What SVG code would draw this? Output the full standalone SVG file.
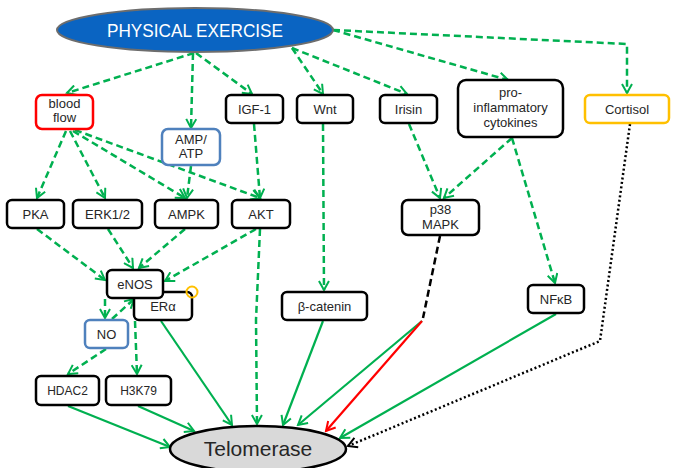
<svg xmlns="http://www.w3.org/2000/svg" width="673" height="468" viewBox="0 0 673 468">
<style>
.box{fill:#fff;stroke:#000;stroke-width:2.5}
.red{stroke:#ff0000}
.blue{stroke:#4f81bd}
.org{stroke:#ffc000}
.t{font-family:"Liberation Sans",Arial,sans-serif;font-size:13px;fill:#262626;text-anchor:middle}
.sm{font-size:12px}
.gd{fill:none;stroke:#00b050;stroke-width:2.5;stroke-dasharray:7 4}
.gs{fill:none;stroke:#00b050;stroke-width:2.2}
.rs{fill:none;stroke:#ff0000;stroke-width:2.2}
.kd{fill:none;stroke:#000;stroke-width:2.5;stroke-dasharray:7 4}
.kdot{fill:none;stroke:#000;stroke-width:2.5;stroke-dasharray:2 2.5}
</style>
<defs>
<marker id="ag" markerWidth="12" markerHeight="12" refX="10" refY="6" orient="auto" markerUnits="userSpaceOnUse"><path d="M1,1 L10,6 L1,11" fill="none" stroke="#00b050" stroke-width="2"/></marker>
<marker id="ar" markerWidth="12" markerHeight="12" refX="10" refY="6" orient="auto" markerUnits="userSpaceOnUse"><path d="M1,1 L10,6 L1,11" fill="none" stroke="#ff0000" stroke-width="2"/></marker>
<marker id="ak" markerWidth="12" markerHeight="12" refX="10" refY="6" orient="auto" markerUnits="userSpaceOnUse"><path d="M1,1 L10,6 L1,11" fill="none" stroke="#000" stroke-width="2"/></marker>
</defs>
<g id="connectors">
<line class="gd" x1="194" y1="53" x2="67" y2="93" marker-end="url(#ag)"/>
<line class="gd" x1="193" y1="53" x2="191" y2="128" marker-end="url(#ag)"/>
<line class="gd" x1="196" y1="53" x2="252" y2="94" marker-end="url(#ag)"/>
<line class="gd" x1="292" y1="48" x2="323" y2="94" marker-end="url(#ag)"/>
<line class="gd" x1="292" y1="48" x2="407" y2="94" marker-end="url(#ag)"/>
<line class="gd" x1="333" y1="30" x2="508" y2="80" marker-end="url(#ag)"/>
<polyline class="gd" points="333,30 627,44 627,93" marker-end="url(#ag)"/>
<line class="gd" x1="66" y1="131" x2="37" y2="198" marker-end="url(#ag)"/>
<line class="gd" x1="70" y1="131" x2="105" y2="198" marker-end="url(#ag)"/>
<line class="gd" x1="73" y1="131" x2="185" y2="198" marker-end="url(#ag)"/>
<line class="gd" x1="75" y1="130" x2="260" y2="198" marker-end="url(#ag)"/>
<line class="gd" x1="191" y1="166" x2="187" y2="198" marker-end="url(#ag)"/>
<line class="gd" x1="254" y1="124" x2="260" y2="198" marker-end="url(#ag)"/>
<line class="gd" x1="323" y1="124" x2="324" y2="290" marker-end="url(#ag)"/>
<line class="gd" x1="409" y1="124" x2="440" y2="198" marker-end="url(#ag)"/>
<line class="gd" x1="512" y1="138" x2="444" y2="198" marker-end="url(#ag)"/>
<line class="gd" x1="512" y1="138" x2="555" y2="283" marker-end="url(#ag)"/>
<line class="gd" x1="37" y1="229" x2="105" y2="280" marker-end="url(#ag)"/>
<line class="gd" x1="108" y1="229" x2="133" y2="268" marker-end="url(#ag)"/>
<line class="gd" x1="185" y1="229" x2="139" y2="268" marker-end="url(#ag)"/>
<line class="gd" x1="256" y1="229" x2="165" y2="281" marker-end="url(#ag)"/>
<path class="gd" d="M260,229 L256,320 L257,424" marker-end="url(#ag)"/>
<line class="gd" x1="105" y1="299" x2="105" y2="318" marker-end="url(#ag)"/>
<line class="gd" x1="112" y1="319" x2="134" y2="299" marker-end="url(#ag)"/>
<line class="gd" x1="135" y1="321" x2="137" y2="374" marker-end="url(#ag)"/>
<line class="gd" x1="106" y1="349" x2="68" y2="374" marker-end="url(#ag)"/>
<line class="gs" x1="68" y1="406" x2="170" y2="447" marker-end="url(#ag)"/>
<line class="gs" x1="138" y1="406" x2="194" y2="431" marker-end="url(#ag)"/>
<line class="gs" x1="161" y1="321" x2="232" y2="425" marker-end="url(#ag)"/>
<line class="gs" x1="323" y1="321" x2="283" y2="425" marker-end="url(#ag)"/>
<line class="kd" x1="440" y1="236" x2="423" y2="318"/>
<line class="gs" x1="422" y1="321" x2="298" y2="425" marker-end="url(#ag)"/>
<line class="rs" x1="422" y1="321" x2="326" y2="431" marker-end="url(#ar)"/>
<line class="gs" x1="556" y1="314" x2="340" y2="438" marker-end="url(#ag)"/>
<polyline class="kdot" points="630,124 600,341 348,446" marker-end="url(#ak)"/>
</g>
<g id="physical-exercise">
<ellipse cx="195" cy="30" rx="138" ry="22" fill="#0a64c2" stroke="#6d6d6d" stroke-width="2"/>
<text x="195" y="37" font-family="Liberation Sans, Arial, sans-serif" font-size="18" fill="#fff" text-anchor="middle" textLength="176" lengthAdjust="spacingAndGlyphs">PHYSICAL EXERCISE</text>
</g>
<g id="blood-flow"><rect class="box red" x="36" y="95" width="57" height="34" rx="6"/><text class="t" x="64.5" y="108">blood</text><text class="t" x="64.5" y="122">flow</text></g>
<g id="igf1"><rect class="box" x="226" y="95" width="57" height="28" rx="5"/><text class="t" x="254.5" y="113.5">IGF-1</text></g>
<g id="wnt"><rect class="box" x="297" y="95" width="56" height="28" rx="5"/><text class="t" x="325" y="113.5">Wnt</text></g>
<g id="irisin"><rect class="box" x="380" y="95" width="57" height="28" rx="5"/><text class="t" x="408.5" y="113.5">Irisin</text></g>
<g id="cytokines"><rect class="box" x="458" y="80" width="105" height="57" rx="8"/><text class="t" x="510.5" y="97">pro-</text><text class="t" x="510.5" y="112">inflammatory</text><text class="t" x="510.5" y="127">cytokines</text></g>
<g id="cortisol"><rect class="box org" x="585" y="95" width="84" height="28" rx="5"/><text class="t" x="627" y="113.5">Cortisol</text></g>
<g id="amp-atp"><rect class="box blue" x="162" y="129" width="58" height="36" rx="6"/><text class="t" x="191" y="144">AMP/</text><text class="t" x="191" y="158">ATP</text></g>
<g id="pka"><rect class="box" x="7" y="200" width="57" height="28" rx="5"/><text class="t" x="35.5" y="218.5">PKA</text></g>
<g id="erk"><rect class="box" x="73" y="200" width="69" height="28" rx="5"/><text class="t" x="107.5" y="218.5">ERK1/2</text></g>
<g id="ampk"><rect class="box" x="155" y="200" width="63" height="28" rx="5"/><text class="t" x="186.5" y="218.5">AMPK</text></g>
<g id="akt"><rect class="box" x="232" y="200" width="58" height="28" rx="5"/><text class="t" x="261" y="218.5">AKT</text></g>
<g id="p38"><rect class="box" x="402" y="200" width="77" height="35" rx="6"/><text class="t" x="440.5" y="214">p38</text><text class="t" x="440.5" y="229">MAPK</text></g>
<g id="era"><rect class="box" x="134" y="292" width="58" height="28" rx="5"/><text class="t" x="163" y="310.5">ERα</text><circle cx="192" cy="292" r="5.5" fill="none" stroke="#ffc000" stroke-width="2"/></g>
<g id="enos"><rect class="box" x="107" y="270" width="56" height="28" rx="5"/><text class="t" x="135" y="288.5">eNOS</text></g>
<g id="no"><rect class="box blue" x="85" y="320" width="43" height="28" rx="5"/><text class="t" x="106.5" y="338.5">NO</text></g>
<g id="beta-catenin"><rect class="box" x="282" y="292" width="85" height="28" rx="5"/><text class="t" x="324.5" y="310.5">β-catenin</text></g>
<g id="nfkb"><rect class="box" x="528" y="285" width="56" height="28" rx="5"/><text class="t" x="556" y="303.5">NFκB</text></g>
<g id="hdac2"><rect class="box" x="36" y="376" width="63" height="29" rx="5"/><text class="t sm" x="67.5" y="395">HDAC2</text></g>
<g id="h3k79"><rect class="box" x="106" y="376" width="65" height="29" rx="5"/><text class="t sm" x="138.5" y="395">H3K79</text></g>
<g id="telomerase">
<ellipse cx="258" cy="449" rx="88" ry="23" fill="#d9d9d9" stroke="#000" stroke-width="2.5"/>
<text x="258" y="456" font-family="Liberation Sans, Arial, sans-serif" font-size="21" fill="#262626" text-anchor="middle">Telomerase</text>
</g>
</svg>
